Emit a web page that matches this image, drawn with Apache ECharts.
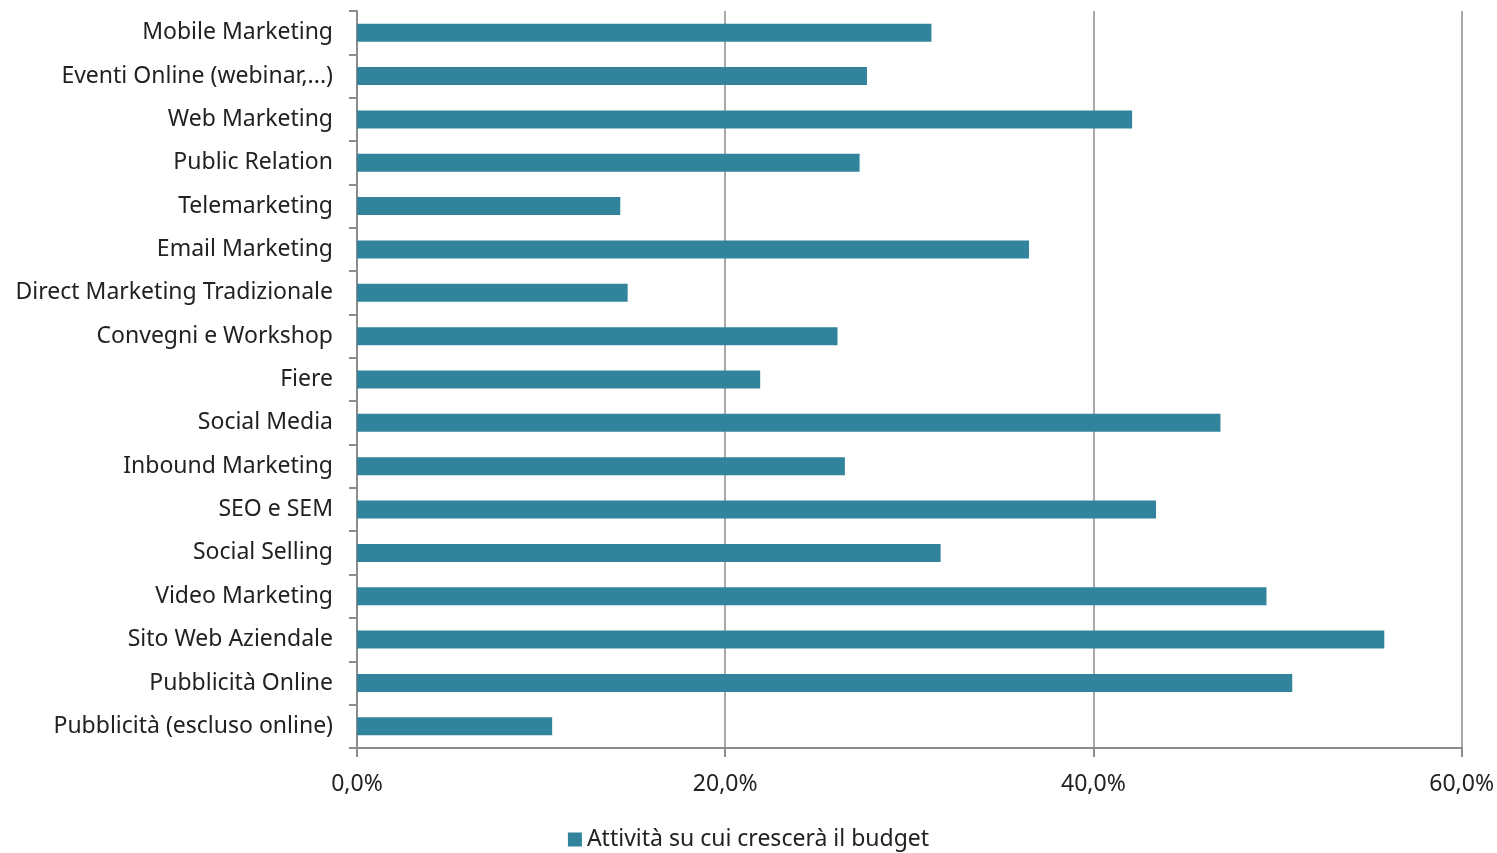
<!DOCTYPE html>
<html>
<head>
<meta charset="utf-8">
<script src="https://cdn.jsdelivr.net/npm/echarts@6/dist/echarts.min.js"></script>
<style>
  html, body { margin: 0; padding: 0; background: #fff; }
  #chart { width: 1497px; height: 853px; }
</style>
</head>
<body>
<div id="chart"></div>
<script>
// Categories listed bottom-to-top (category axis on y starts at the bottom)
const categories = [
  'Pubblicità (escluso online)',
  'Pubblicità Online',
  'Sito Web Aziendale',
  'Video Marketing',
  'Social Selling',
  'SEO e SEM',
  'Inbound Marketing',
  'Social Media',
  'Fiere',
  'Convegni e Workshop',
  'Direct Marketing Tradizionale',
  'Email Marketing',
  'Telemarketing',
  'Public Relation',
  'Web Marketing',
  'Eventi Online (webinar,...)',
  'Mobile Marketing'
];
const seriesName = 'Attività su cui crescerà il budget';
const values = [10.6, 50.8, 55.8, 49.4, 31.7, 43.4, 26.5, 46.9, 21.9, 26.1, 14.7, 36.5, 14.3, 27.3, 42.1, 27.7, 31.2];
const xTicks = [0, 20, 40, 60];

const FONT = 'Noto Sans';
const chart = echarts.init(document.getElementById('chart'));
chart.setOption({
  animation: false,
  textStyle: { fontFamily: FONT },
  grid: { left: 357, right: 35, top: 11, bottom: 105, containLabel: false },
  legend: {
    bottom: -3,
    left: 'center',
    icon: 'rect',
    itemWidth: 14,
    itemHeight: 14,
    itemGap: 6,
    textStyle: { fontFamily: FONT, fontSize: 23, color: '#222' },
    data: [seriesName]
  },
  xAxis: {
    type: 'value',
    min: xTicks[0],
    max: xTicks[xTicks.length - 1],
    interval: 20,
    axisLine: { show: true, lineStyle: { color: '#8c8c8c', width: 2 } },
    axisTick: { show: true, length: 9, lineStyle: { color: '#8c8c8c', width: 2 } },
    splitLine: { show: true, lineStyle: { color: '#8c8c8c', width: 1.5 } },
    axisLabel: {
      margin: 25,
      fontFamily: FONT,
      fontSize: 23,
      color: '#222',
      formatter: v => v.toFixed(1).replace('.', ',') + '%'
    }
  },
  yAxis: {
    type: 'category',
    data: categories,
    axisLine: { show: true, lineStyle: { color: '#8c8c8c', width: 2 } },
    axisTick: { show: true, length: 8, lineStyle: { color: '#8c8c8c', width: 2 } },
    axisLabel: { margin: 24, fontFamily: FONT, fontSize: 23, color: '#222' }
  },
  series: [{
    name: seriesName,
    type: 'bar',
    data: values,
    barWidth: 18,
    itemStyle: { color: '#31849B' }
  }]
});
</script>
</body>
</html>
